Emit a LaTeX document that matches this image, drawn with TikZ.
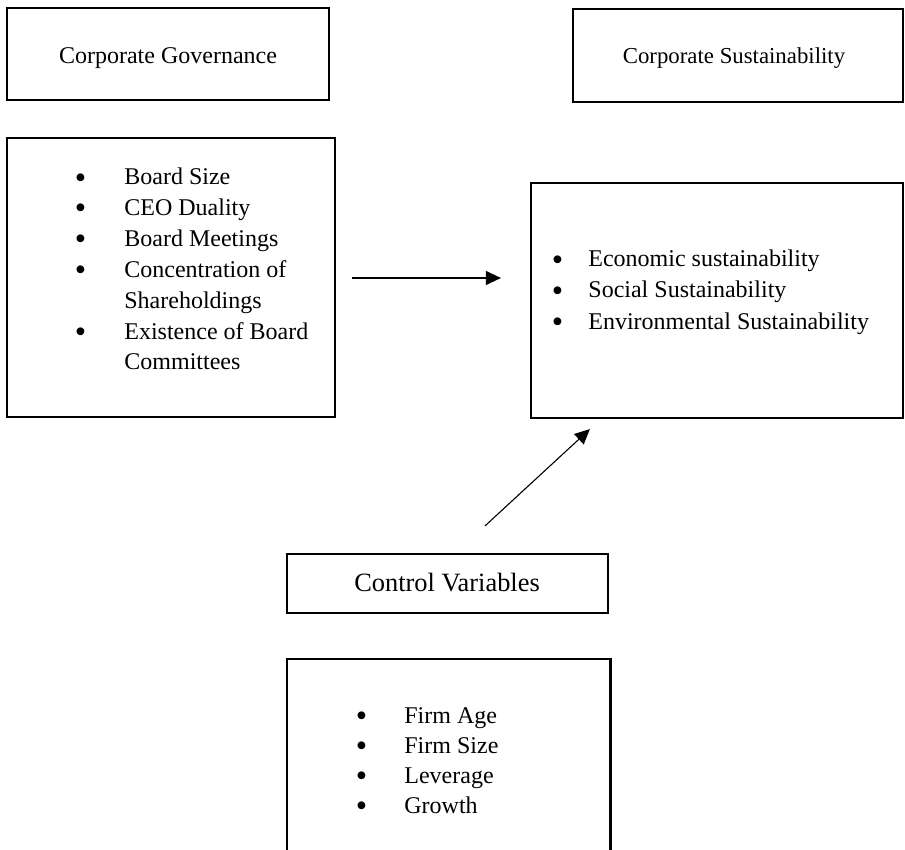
\documentclass[tikz,border=0pt]{standalone}
\usepackage{graphicx}
\usepackage{fontspec}
\setmainfont{Liberation Serif}
\usetikzlibrary{fit,arrows.meta,calc}
\newcommand\bul{\raisebox{-1.6pt}{\scalebox{1.35}{\textbullet}}}
\begin{document}
\begin{tikzpicture}[x=0.5pt,y=-0.5pt,
  box/.style={draw,line width=1.1pt,inner sep=0pt},
  openbox/.style={inner sep=0pt},
  title/.style={anchor=base,inner sep=0pt},
  item/.style={anchor=base west,inner sep=0pt},
  fa/.style={font=\fontsize{12}{14}\selectfont},
  fb/.style={font=\fontsize{11.4}{14}\selectfont},
  fd/.style={font=\fontsize{13.2}{15}\selectfont},
  conn/.style={line width=0.55pt,-{Triangle[length=7.5pt,width=7pt]}}]
\useasboundingbox (0,0) rectangle (905,850);

% title boxes
\node[box, fit={(7,8) (329,100)}] (gt) {};
\node[title, fa] (gtt) at (168,64) {Corporate Governance};
\node[box, fit={(573,9) (903,102)}] (st) {};
\node[title, fb] (stt) at (734,64) {Corporate Sustainability};

% governance list
\node[box, fit={(7,138) (335,417)}] (gl) {};
\node[item, fa] (g1) at (124,185)   {Board Size};
\node[item, fa] (g2) at (124,215.8) {CEO Duality};
\node[item, fa] (g3) at (124,246.6) {Board Meetings};
\node[item, fa] (g4) at (124,277.4) {Concentration of};
\node[item, fa] (g5) at (124,308.2) {Shareholdings};
\node[item, fa] (g6) at (124,339)   {Existence of Board};
\node[item, fa] (g7) at (124,369.8) {Committees};
\foreach \n/\yy in {gb1/185, gb2/215.8, gb3/246.6, gb4/277.4, gb6/339}
  \node[item, fa] (\n) at (74.5,\yy) {\bul};

% sustainability list
\node[box, fit={(531,183) (903,418)}] (sl) {};
\node[item, fa] (s1) at (588,267) {Economic sustainability};
\node[item, fa] (s2) at (588,298) {Social Sustainability};
\node[item, fa] (s3) at (588,329) {Environmental Sustainability};
\foreach \n/\yy in {sb1/267, sb2/298, sb3/329}
  \node[item, fa] (\n) at (551.5,\yy) {\bul};

% control variables
\node[box, fit={(287,554) (608,613)}] (cv) {};
\node[title, fd] (cvt) at (447,591) {Control Variables};

% control list (open at bottom)
\node[openbox, fit={(287,659) (610,851)}] (cl) {};
\draw[line width=1.1pt] (cl.south west) -- (cl.north west) -- (cl.north east) -- (cl.south east);
\node[item, fa] (c1) at (404,723) {Firm Age};
\node[item, fa] (c2) at (404,753) {Firm Size};
\node[item, fa] (c3) at (404,783) {Leverage};
\node[item, fa] (c4) at (404,813) {Growth};
\foreach \n/\yy in {cb1/723, cb2/753, cb3/783, cb4/813}
  \node[item, fa] (\n) at (355.5,\yy) {\bul};

% connectors
\draw[conn] ($(gl.east)+(16,0.5)$) -- ($(sl.west)+(-29,-22.5)$);
\draw[conn] ($(cv.north)+(37.5,-27)$) -- ($(sl.south west)+(60,10)$);
\end{tikzpicture}
\end{document}
